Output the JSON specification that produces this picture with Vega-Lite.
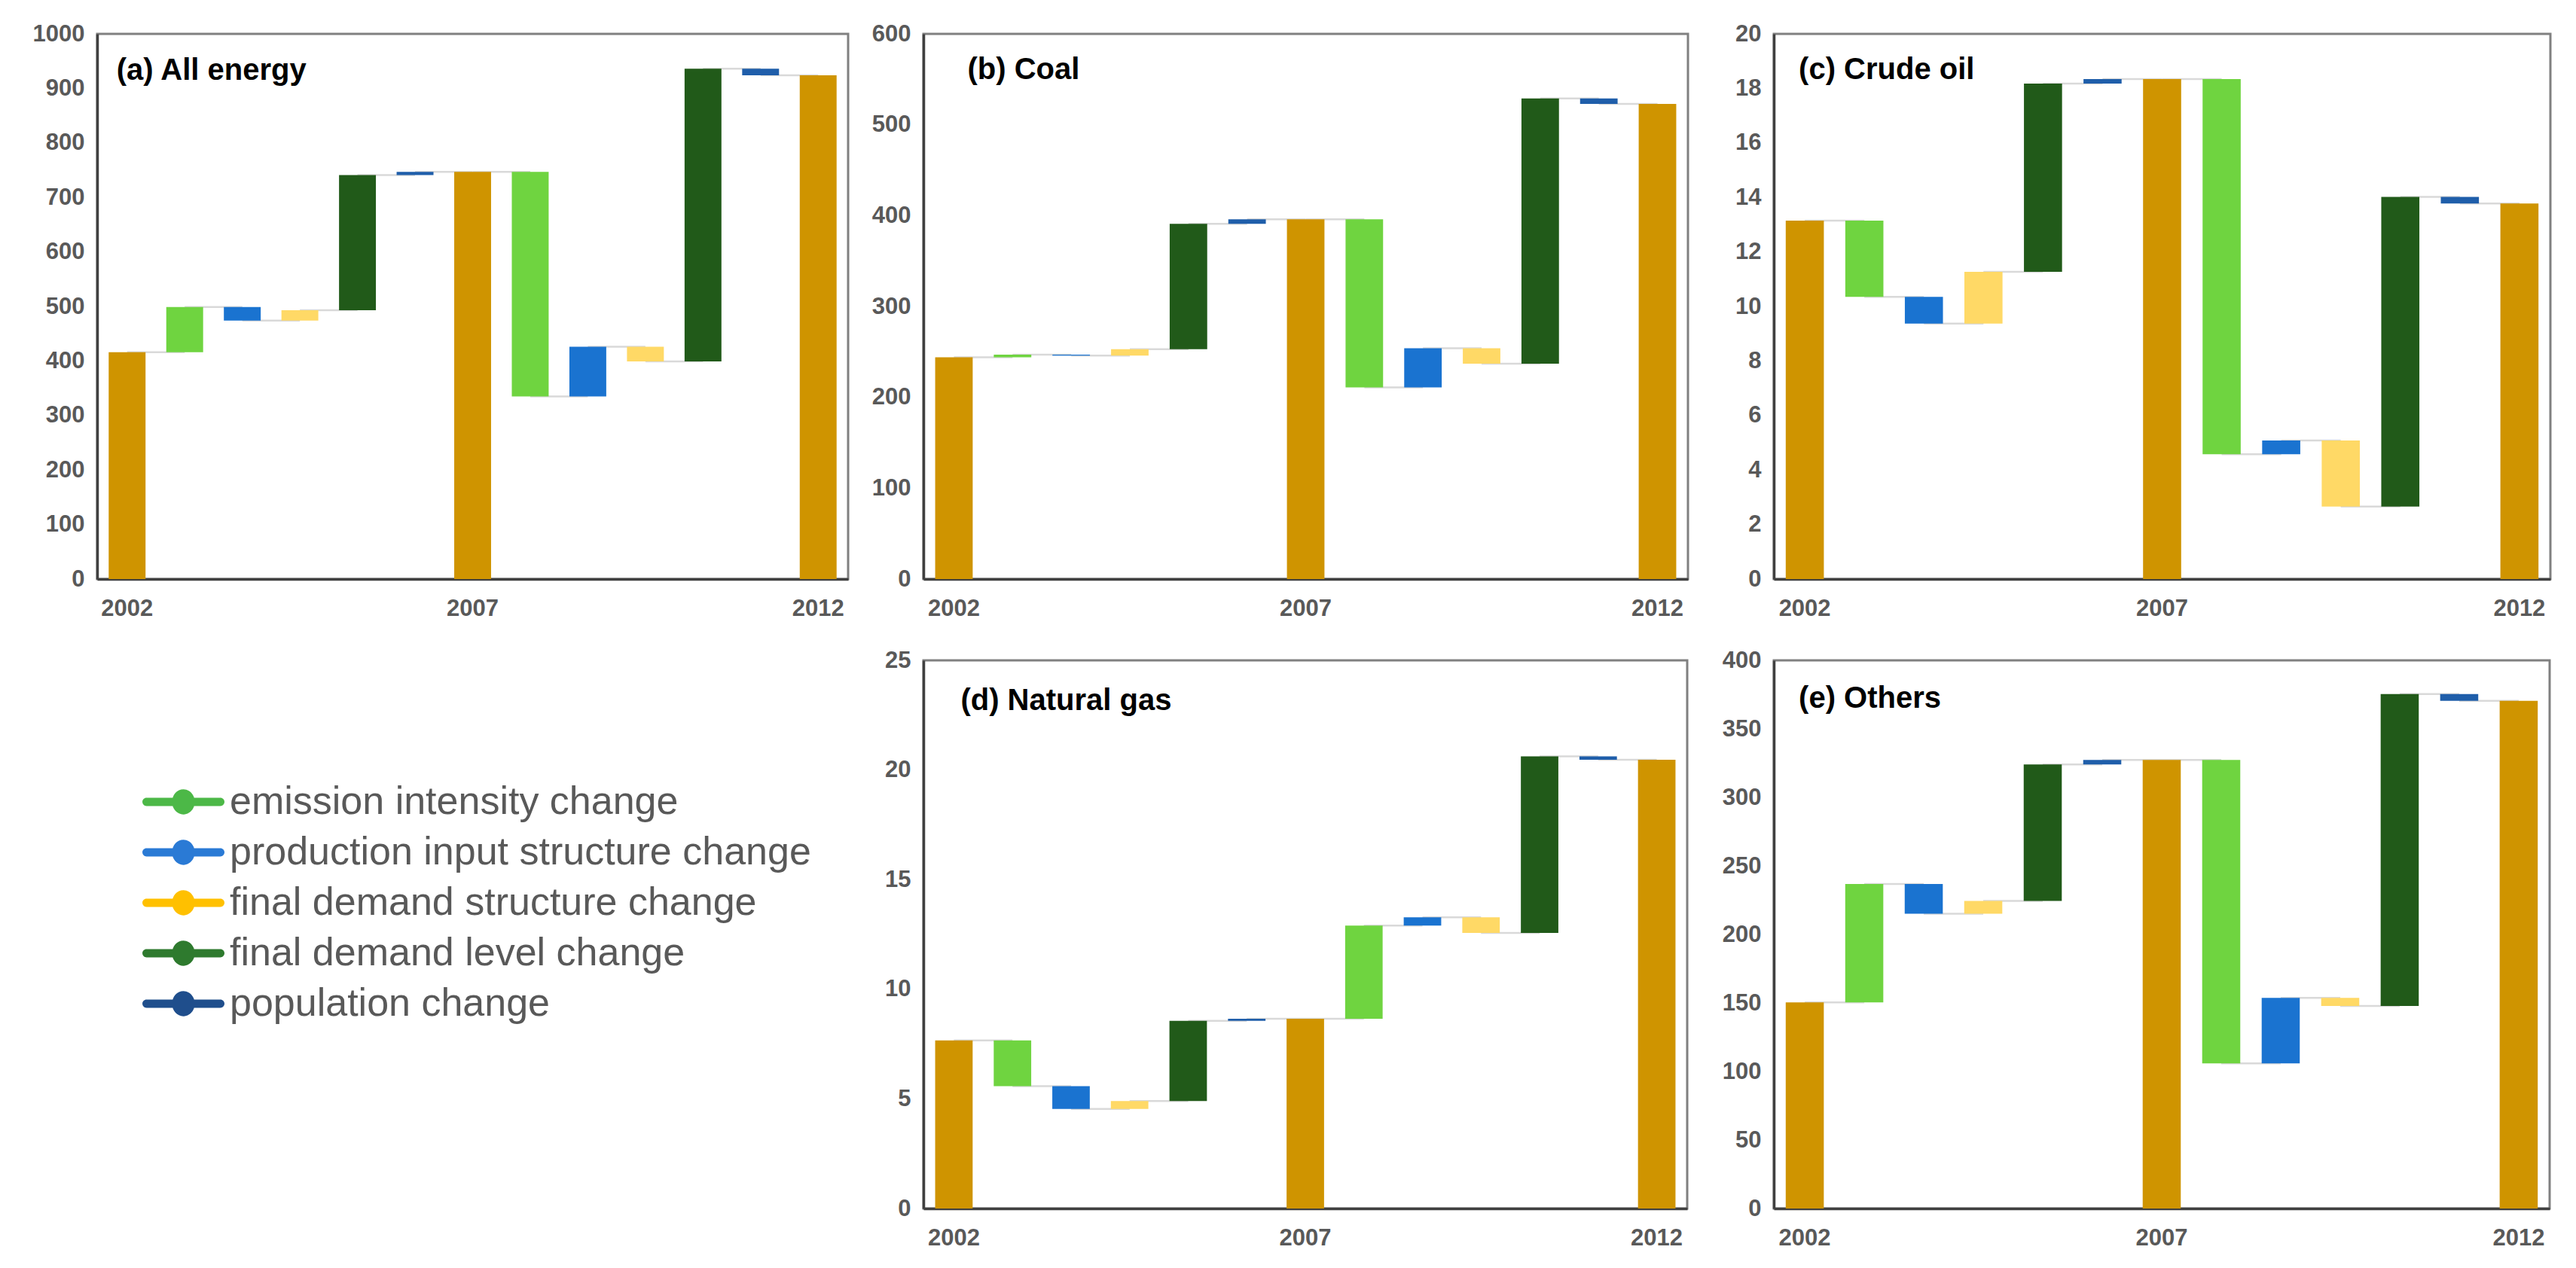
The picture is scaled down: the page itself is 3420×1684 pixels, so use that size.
{
  "$schema": "https://vega.github.io/schema/vega-lite/v6.json",
  "background": "white",
  "padding": {"left": 36, "top": 27, "right": 0, "bottom": 0},
  "config": {
    "font": "Liberation Sans",
    "view": {"stroke": "#808080", "strokeWidth": 3},
    "axis": {
      "labelFont": "Liberation Sans",
      "labelFontWeight": "bold",
      "labelColor": "#595959",
      "labelFontSize": 31,
      "ticks": false,
      "grid": false,
      "domainColor": "#404040",
      "domainWidth": 3.5
    }
  },
  "datasets": {
    "a": [
      {"i": 0, "s": "2002", "c": "total", "y0": 0, "y1": 416},
      {"i": 1, "s": "ei1", "c": "ei", "y0": 416, "y1": 499},
      {"i": 2, "s": "pis1", "c": "pis", "y0": 499, "y1": 474},
      {"i": 3, "s": "fds1", "c": "fds", "y0": 474, "y1": 493},
      {"i": 4, "s": "fdl1", "c": "fdl", "y0": 493, "y1": 741},
      {"i": 5, "s": "pop1", "c": "pop", "y0": 741, "y1": 747},
      {"i": 6, "s": "2007", "c": "total", "y0": 0, "y1": 747},
      {"i": 7, "s": "ei2", "c": "ei", "y0": 747, "y1": 335},
      {"i": 8, "s": "pis2", "c": "pis", "y0": 335, "y1": 426},
      {"i": 9, "s": "fds2", "c": "fds", "y0": 426, "y1": 399},
      {"i": 10, "s": "fdl2", "c": "fdl", "y0": 399, "y1": 936},
      {"i": 11, "s": "pop2", "c": "pop", "y0": 936, "y1": 924},
      {"i": 12, "s": "2012", "c": "total", "y0": 0, "y1": 924}
    ],
    "b": [
      {"i": 0, "s": "2002", "c": "total", "y0": 0, "y1": 244},
      {"i": 1, "s": "ei1", "c": "ei", "y0": 244, "y1": 247},
      {"i": 2, "s": "pis1", "c": "pis", "y0": 247, "y1": 246},
      {"i": 3, "s": "fds1", "c": "fds", "y0": 246, "y1": 253},
      {"i": 4, "s": "fdl1", "c": "fdl", "y0": 253, "y1": 391},
      {"i": 5, "s": "pop1", "c": "pop", "y0": 391, "y1": 396},
      {"i": 6, "s": "2007", "c": "total", "y0": 0, "y1": 396},
      {"i": 7, "s": "ei2", "c": "ei", "y0": 396, "y1": 211},
      {"i": 8, "s": "pis2", "c": "pis", "y0": 211, "y1": 254},
      {"i": 9, "s": "fds2", "c": "fds", "y0": 254, "y1": 237},
      {"i": 10, "s": "fdl2", "c": "fdl", "y0": 237, "y1": 529},
      {"i": 11, "s": "pop2", "c": "pop", "y0": 529, "y1": 523},
      {"i": 12, "s": "2012", "c": "total", "y0": 0, "y1": 523}
    ],
    "c": [
      {"i": 0, "s": "2002", "c": "total", "y0": 0, "y1": 13.15},
      {"i": 1, "s": "ei1", "c": "ei", "y0": 13.15, "y1": 10.35},
      {"i": 2, "s": "pis1", "c": "pis", "y0": 10.35, "y1": 9.37},
      {"i": 3, "s": "fds1", "c": "fds", "y0": 9.37, "y1": 11.27},
      {"i": 4, "s": "fdl1", "c": "fdl", "y0": 11.27, "y1": 18.18},
      {"i": 5, "s": "pop1", "c": "pop", "y0": 18.18, "y1": 18.34},
      {"i": 6, "s": "2007", "c": "total", "y0": 0, "y1": 18.34},
      {"i": 7, "s": "ei2", "c": "ei", "y0": 18.34, "y1": 4.58},
      {"i": 8, "s": "pis2", "c": "pis", "y0": 4.58, "y1": 5.08},
      {"i": 9, "s": "fds2", "c": "fds", "y0": 5.08, "y1": 2.66},
      {"i": 10, "s": "fdl2", "c": "fdl", "y0": 2.66, "y1": 14.02},
      {"i": 11, "s": "pop2", "c": "pop", "y0": 14.02, "y1": 13.78},
      {"i": 12, "s": "2012", "c": "total", "y0": 0, "y1": 13.78}
    ],
    "d": [
      {"i": 0, "s": "2002", "c": "total", "y0": 0, "y1": 7.67},
      {"i": 1, "s": "ei1", "c": "ei", "y0": 7.67, "y1": 5.58},
      {"i": 2, "s": "pis1", "c": "pis", "y0": 5.58, "y1": 4.54},
      {"i": 3, "s": "fds1", "c": "fds", "y0": 4.54, "y1": 4.9},
      {"i": 4, "s": "fdl1", "c": "fdl", "y0": 4.9, "y1": 8.56},
      {"i": 5, "s": "pop1", "c": "pop", "y0": 8.56, "y1": 8.65},
      {"i": 6, "s": "2007", "c": "total", "y0": 0, "y1": 8.65},
      {"i": 7, "s": "ei2", "c": "ei", "y0": 8.65, "y1": 12.9},
      {"i": 8, "s": "pis2", "c": "pis", "y0": 12.9, "y1": 13.28},
      {"i": 9, "s": "fds2", "c": "fds", "y0": 13.28, "y1": 12.57},
      {"i": 10, "s": "fdl2", "c": "fdl", "y0": 12.57, "y1": 20.62},
      {"i": 11, "s": "pop2", "c": "pop", "y0": 20.62, "y1": 20.47},
      {"i": 12, "s": "2012", "c": "total", "y0": 0, "y1": 20.47}
    ],
    "e": [
      {"i": 0, "s": "2002", "c": "total", "y0": 0, "y1": 150.4},
      {"i": 1, "s": "ei1", "c": "ei", "y0": 150.4, "y1": 236.8},
      {"i": 2, "s": "pis1", "c": "pis", "y0": 236.8, "y1": 215.1},
      {"i": 3, "s": "fds1", "c": "fds", "y0": 215.1, "y1": 224.5},
      {"i": 4, "s": "fdl1", "c": "fdl", "y0": 224.5, "y1": 324},
      {"i": 5, "s": "pop1", "c": "pop", "y0": 324, "y1": 327.3},
      {"i": 6, "s": "2007", "c": "total", "y0": 0, "y1": 327.3},
      {"i": 7, "s": "ei2", "c": "ei", "y0": 327.3, "y1": 105.9},
      {"i": 8, "s": "pis2", "c": "pis", "y0": 105.9, "y1": 153.7},
      {"i": 9, "s": "fds2", "c": "fds", "y0": 153.7, "y1": 147.8},
      {"i": 10, "s": "fdl2", "c": "fdl", "y0": 147.8, "y1": 375.4},
      {"i": 11, "s": "pop2", "c": "pop", "y0": 375.4, "y1": 370.5},
      {"i": 12, "s": "2012", "c": "total", "y0": 0, "y1": 370.5}
    ],
    "leg": [
      {"lbl": "emission intensity change"},
      {"lbl": "production input structure change"},
      {"lbl": "final demand structure change"},
      {"lbl": "final demand level change"},
      {"lbl": "population change"}
    ]
  },
  "columns": 3,
  "align": "each",
  "bounds": "full",
  "spacing": {"row": 34, "column": 20},
  "resolve": {"scale": {"color": "independent"}, "legend": {"color": "independent"}},
  "concat": [
    {
      "width": 997, "height": 724,
      "encoding": {
        "x": {"field": "s", "type": "ordinal", "scale": {"type": "band", "domain": ["2002","ei1","pis1","fds1","fdl1","pop1","2007","ei2","pis2","fds2","fdl2","pop2","2012"], "paddingInner": 0.36, "paddingOuter": 0.2}, "axis": {"title": null, "values": ["2002","2007","2012"], "labelAngle": 0, "labelPadding": 24}}
      },
      "layer": [
        {"data": {"name": "a"},
         "transform": [{"window": [{"op": "lead", "field": "s", "as": "ns"}], "sort": [{"field": "i", "order": "ascending"}]}, {"filter": "datum.ns != null"}],
         "mark": {"type": "rule", "stroke": "#d9d9d9", "strokeWidth": 2.5},
         "encoding": {"x2": {"field": "ns"},
           "y": {"field": "y1", "type": "quantitative", "scale": {"domain": [0, 1000], "nice": false, "zero": true}, "axis": {"title": null, "format": "d", "values": [0,100,200,300,400,500,600,700,800,900,1000], "labelPadding": 17, "minExtent": 91}}}},
        {"data": {"name": "a"},
         "mark": {"type": "bar"},
         "encoding": {
           "y": {"field": "y1", "type": "quantitative", "scale": {"domain": [0, 1000], "nice": false, "zero": true}, "axis": {"title": null, "format": "d", "values": [0,100,200,300,400,500,600,700,800,900,1000], "labelPadding": 17, "minExtent": 91}},
           "y2": {"field": "y0"}, "color": {"field": "c", "type": "nominal", "scale": {"domain": ["total","ei","pis","fds","fdl","pop"], "range": ["#cf9400","#6fd440","#1a73d0","#ffd966","#215a19","#1f5eaa"]}, "legend": null}}},
        {"data": {"values": [{"s": "2002", "t": "(a) All energy"}]},
         "mark": {"type": "text", "align": "left", "baseline": "middle", "font": "Liberation Sans", "fontSize": 40, "fontWeight": "bold", "fill": "#000000", "dx": -14, "dy": 49},
         "encoding": {"text": {"field": "t", "type": "nominal"}, "y": {"datum": 1000, "type": "quantitative"}}}
      ]
    },
    {
      "width": 1015, "height": 724,
      "encoding": {
        "x": {"field": "s", "type": "ordinal", "scale": {"type": "band", "domain": ["2002","ei1","pis1","fds1","fdl1","pop1","2007","ei2","pis2","fds2","fdl2","pop2","2012"], "paddingInner": 0.36, "paddingOuter": 0.2}, "axis": {"title": null, "values": ["2002","2007","2012"], "labelAngle": 0, "labelPadding": 24}}
      },
      "layer": [
        {"data": {"name": "b"},
         "transform": [{"window": [{"op": "lead", "field": "s", "as": "ns"}], "sort": [{"field": "i", "order": "ascending"}]}, {"filter": "datum.ns != null"}],
         "mark": {"type": "rule", "stroke": "#d9d9d9", "strokeWidth": 2.5},
         "encoding": {"x2": {"field": "ns"},
           "y": {"field": "y1", "type": "quantitative", "scale": {"domain": [0, 600], "nice": false, "zero": true}, "axis": {"title": null, "format": "d", "values": [0,100,200,300,400,500,600], "labelPadding": 17, "minExtent": 76}}}},
        {"data": {"name": "b"},
         "mark": {"type": "bar"},
         "encoding": {
           "y": {"field": "y1", "type": "quantitative", "scale": {"domain": [0, 600], "nice": false, "zero": true}, "axis": {"title": null, "format": "d", "values": [0,100,200,300,400,500,600], "labelPadding": 17, "minExtent": 76}},
           "y2": {"field": "y0"}, "color": {"field": "c", "type": "nominal", "scale": {"domain": ["total","ei","pis","fds","fdl","pop"], "range": ["#cf9400","#6fd440","#1a73d0","#ffd966","#215a19","#1f5eaa"]}, "legend": null}}},
        {"data": {"values": [{"s": "2002", "t": "(b) Coal"}]},
         "mark": {"type": "text", "align": "left", "baseline": "middle", "font": "Liberation Sans", "fontSize": 40, "fontWeight": "bold", "fill": "#000000", "dx": 18, "dy": 48},
         "encoding": {"text": {"field": "t", "type": "nominal"}, "y": {"datum": 600, "type": "quantitative"}}}
      ]
    },
    {
      "width": 1031, "height": 724,
      "encoding": {
        "x": {"field": "s", "type": "ordinal", "scale": {"type": "band", "domain": ["2002","ei1","pis1","fds1","fdl1","pop1","2007","ei2","pis2","fds2","fdl2","pop2","2012"], "paddingInner": 0.36, "paddingOuter": 0.2}, "axis": {"title": null, "values": ["2002","2007","2012"], "labelAngle": 0, "labelPadding": 24}}
      },
      "layer": [
        {"data": {"name": "c"},
         "transform": [{"window": [{"op": "lead", "field": "s", "as": "ns"}], "sort": [{"field": "i", "order": "ascending"}]}, {"filter": "datum.ns != null"}],
         "mark": {"type": "rule", "stroke": "#d9d9d9", "strokeWidth": 2.5},
         "encoding": {"x2": {"field": "ns"},
           "y": {"field": "y1", "type": "quantitative", "scale": {"domain": [0, 20], "nice": false, "zero": true}, "axis": {"title": null, "format": "d", "values": [0,2,4,6,8,10,12,14,16,18,20], "labelPadding": 17, "minExtent": 90}}}},
        {"data": {"name": "c"},
         "mark": {"type": "bar"},
         "encoding": {
           "y": {"field": "y1", "type": "quantitative", "scale": {"domain": [0, 20], "nice": false, "zero": true}, "axis": {"title": null, "format": "d", "values": [0,2,4,6,8,10,12,14,16,18,20], "labelPadding": 17, "minExtent": 90}},
           "y2": {"field": "y0"}, "color": {"field": "c", "type": "nominal", "scale": {"domain": ["total","ei","pis","fds","fdl","pop"], "range": ["#cf9400","#6fd440","#1a73d0","#ffd966","#215a19","#1f5eaa"]}, "legend": null}}},
        {"data": {"values": [{"s": "2002", "t": "(c) Crude oil"}]},
         "mark": {"type": "text", "align": "left", "baseline": "middle", "font": "Liberation Sans", "fontSize": 40, "fontWeight": "bold", "fill": "#000000", "dx": -8, "dy": 48},
         "encoding": {"text": {"field": "t", "type": "nominal"}, "y": {"datum": 20, "type": "quantitative"}}}
      ]
    },
    {
      "width": 900, "height": 728,
      "view": {"stroke": null},
      "data": {"name": "leg"},
      "mark": {"type": "circle", "opacity": 0},
      "encoding": {
        "color": {"field": "lbl", "type": "nominal",
          "scale": {"domain": ["emission intensity change","production input structure change","final demand structure change","final demand level change","population change"], "range": ["#4cb847","#2a7ad5","#ffc000","#2e7a2e","#1f4e8c"]},
          "legend": {"title": null, "orient": "none", "legendX": 117, "legendY": 162, "direction": "vertical", "padding": 0,
            "symbolType": "M-2.98,-0.21 L0.79,-0.21 A0.21,0.21 0 0 1 0.79,0.21 L-2.98,0.21 A0.21,0.21 0 0 1 -2.98,-0.21 Z M-1.675,0 A0.58,0.64 0 1 1 -0.515,0 A0.58,0.64 0 1 1 -1.675,0 Z",
            "symbolSize": 2704, "symbolStrokeWidth": 0, "symbolOpacity": 1,
            "labelFont": "Liberation Sans", "labelFontSize": 52, "labelColor": "#595959", "labelOffset": 7, "labelLimit": 2000, "rowPadding": 15}}
      }
    },
    {
      "width": 1014, "height": 728,
      "encoding": {
        "x": {"field": "s", "type": "ordinal", "scale": {"type": "band", "domain": ["2002","ei1","pis1","fds1","fdl1","pop1","2007","ei2","pis2","fds2","fdl2","pop2","2012"], "paddingInner": 0.36, "paddingOuter": 0.2}, "axis": {"title": null, "values": ["2002","2007","2012"], "labelAngle": 0, "labelPadding": 24}}
      },
      "layer": [
        {"data": {"name": "d"},
         "transform": [{"window": [{"op": "lead", "field": "s", "as": "ns"}], "sort": [{"field": "i", "order": "ascending"}]}, {"filter": "datum.ns != null"}],
         "mark": {"type": "rule", "stroke": "#d9d9d9", "strokeWidth": 2.5},
         "encoding": {"x2": {"field": "ns"},
           "y": {"field": "y1", "type": "quantitative", "scale": {"domain": [0, 25], "nice": false, "zero": true}, "axis": {"title": null, "format": "d", "values": [0,5,10,15,20,25], "labelPadding": 17, "minExtent": 76}}}},
        {"data": {"name": "d"},
         "mark": {"type": "bar"},
         "encoding": {
           "y": {"field": "y1", "type": "quantitative", "scale": {"domain": [0, 25], "nice": false, "zero": true}, "axis": {"title": null, "format": "d", "values": [0,5,10,15,20,25], "labelPadding": 17, "minExtent": 76}},
           "y2": {"field": "y0"}, "color": {"field": "c", "type": "nominal", "scale": {"domain": ["total","ei","pis","fds","fdl","pop"], "range": ["#cf9400","#6fd440","#1a73d0","#ffd966","#215a19","#1f5eaa"]}, "legend": null}}},
        {"data": {"values": [{"s": "2002", "t": "(d) Natural gas"}]},
         "mark": {"type": "text", "align": "left", "baseline": "middle", "font": "Liberation Sans", "fontSize": 40, "fontWeight": "bold", "fill": "#000000", "dx": 9, "dy": 54},
         "encoding": {"text": {"field": "t", "type": "nominal"}, "y": {"datum": 25, "type": "quantitative"}}}
      ]
    },
    {
      "width": 1030, "height": 728,
      "encoding": {
        "x": {"field": "s", "type": "ordinal", "scale": {"type": "band", "domain": ["2002","ei1","pis1","fds1","fdl1","pop1","2007","ei2","pis2","fds2","fdl2","pop2","2012"], "paddingInner": 0.36, "paddingOuter": 0.2}, "axis": {"title": null, "values": ["2002","2007","2012"], "labelAngle": 0, "labelPadding": 24}}
      },
      "layer": [
        {"data": {"name": "e"},
         "transform": [{"window": [{"op": "lead", "field": "s", "as": "ns"}], "sort": [{"field": "i", "order": "ascending"}]}, {"filter": "datum.ns != null"}],
         "mark": {"type": "rule", "stroke": "#d9d9d9", "strokeWidth": 2.5},
         "encoding": {"x2": {"field": "ns"},
           "y": {"field": "y1", "type": "quantitative", "scale": {"domain": [0, 400], "nice": false, "zero": true}, "axis": {"title": null, "format": "d", "values": [0,50,100,150,200,250,300,350,400], "labelPadding": 17, "minExtent": 90}}}},
        {"data": {"name": "e"},
         "mark": {"type": "bar"},
         "encoding": {
           "y": {"field": "y1", "type": "quantitative", "scale": {"domain": [0, 400], "nice": false, "zero": true}, "axis": {"title": null, "format": "d", "values": [0,50,100,150,200,250,300,350,400], "labelPadding": 17, "minExtent": 90}},
           "y2": {"field": "y0"}, "color": {"field": "c", "type": "nominal", "scale": {"domain": ["total","ei","pis","fds","fdl","pop"], "range": ["#cf9400","#6fd440","#1a73d0","#ffd966","#215a19","#1f5eaa"]}, "legend": null}}},
        {"data": {"values": [{"s": "2002", "t": "(e) Others"}]},
         "mark": {"type": "text", "align": "left", "baseline": "middle", "font": "Liberation Sans", "fontSize": 40, "fontWeight": "bold", "fill": "#000000", "dx": -8, "dy": 51},
         "encoding": {"text": {"field": "t", "type": "nominal"}, "y": {"datum": 400, "type": "quantitative"}}}
      ]
    }
  ]
}
